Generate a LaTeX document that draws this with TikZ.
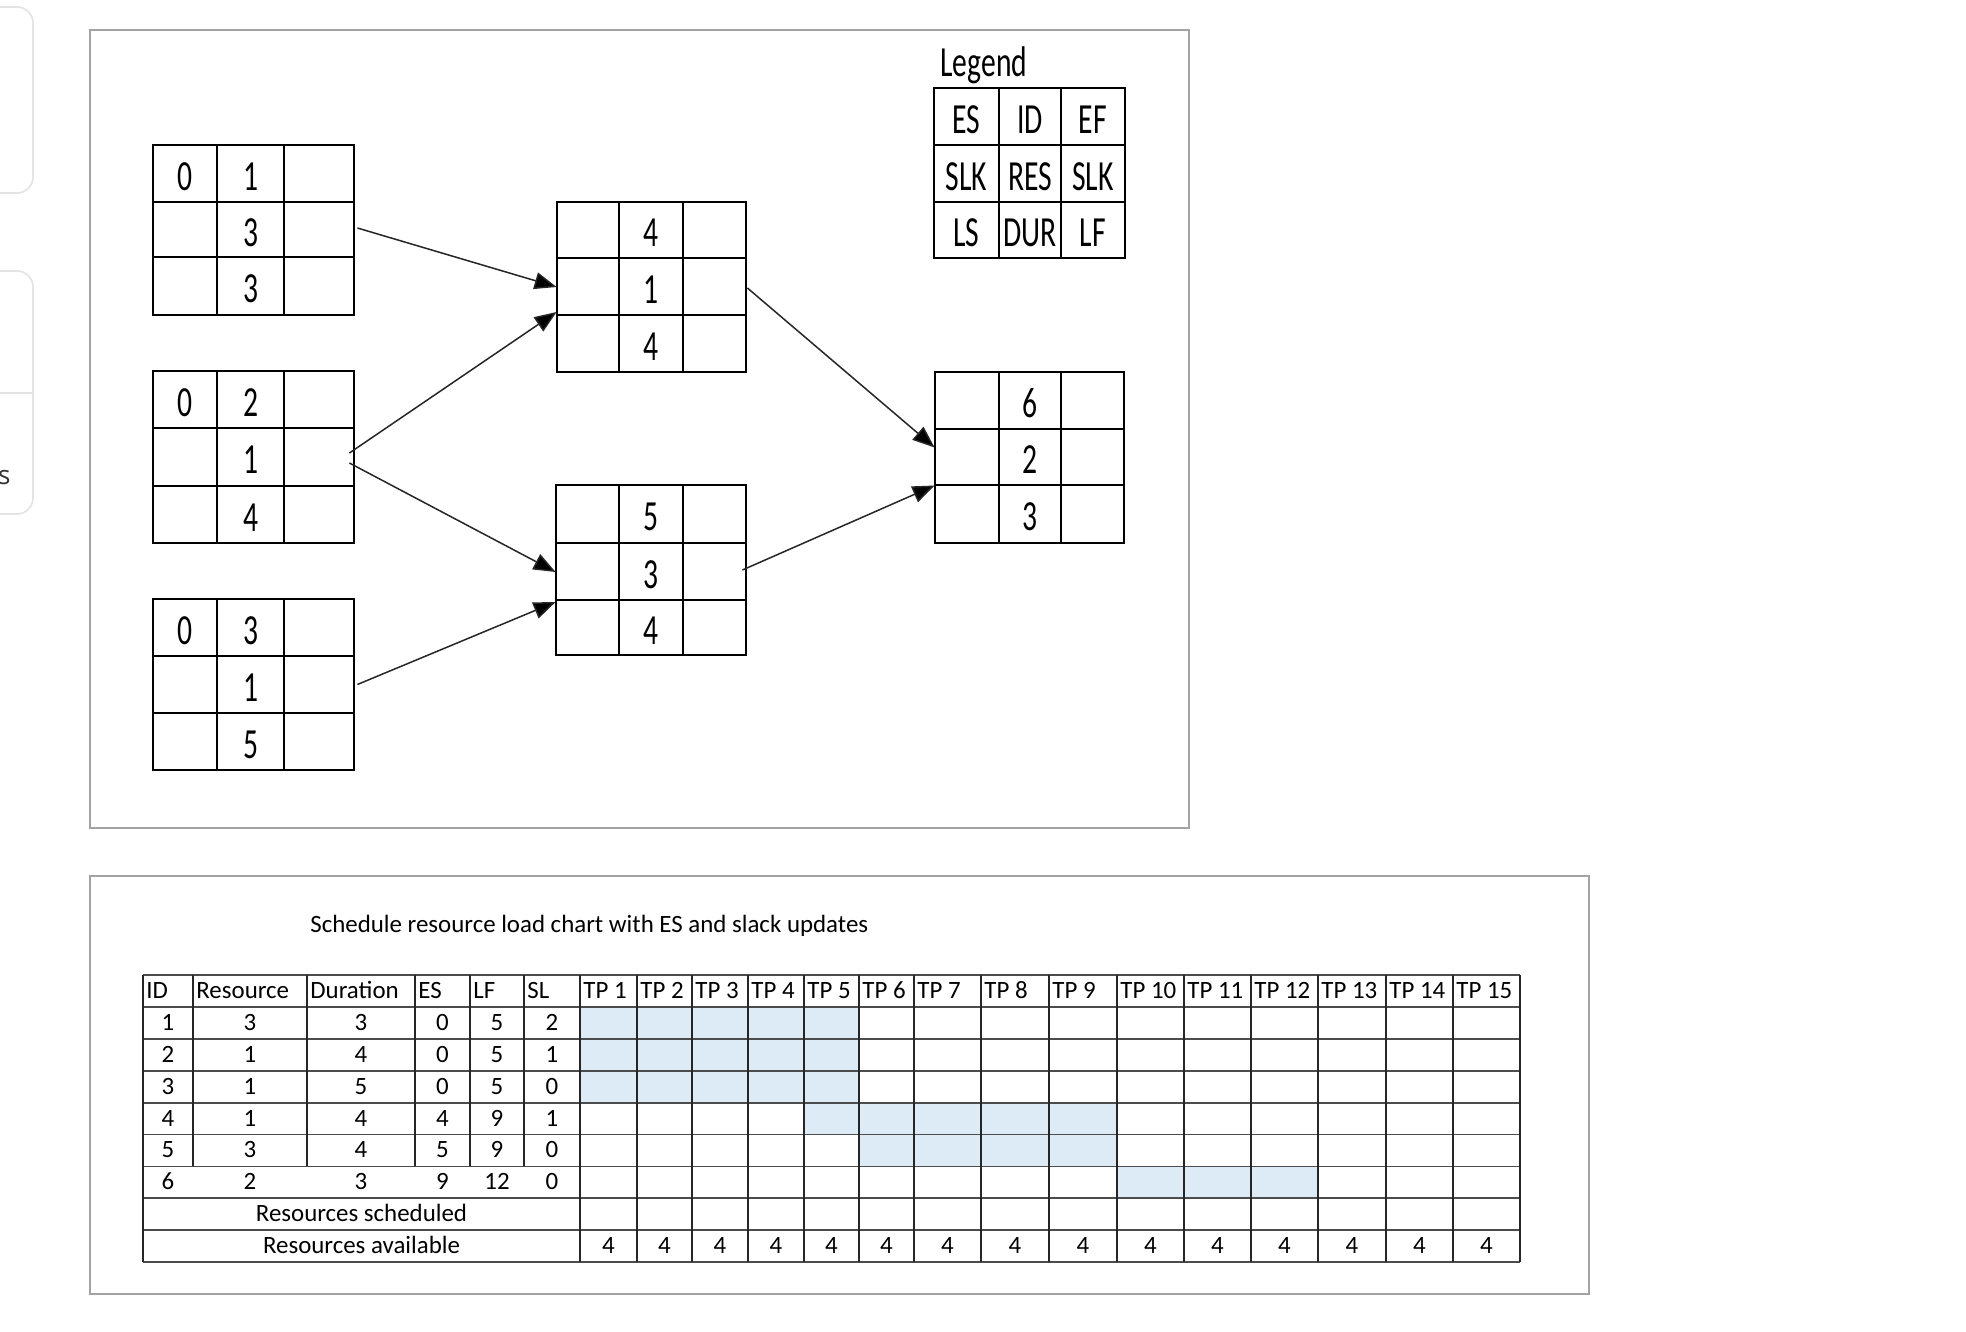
\documentclass[tikz,border=0pt]{standalone}
\usepackage{fontspec}
\usepackage{graphicx}
\setmainfont{Carlito}
\newfontfamily\uifont{Open Sans}
\usetikzlibrary{arrows.meta,calc,fit}
\definecolor{cellblue}{HTML}{DDEBF7}
\definecolor{framegray}{HTML}{A3A3A3}
\definecolor{uigray}{HTML}{E3E3E3}
\newcommand\tall[1]{\scalebox{1}[1.45]{#1}}
\newcommand\netbox[9]{%
  \draw[boxline] (#2,#6) rectangle (#5,#9);
  \draw[boxline] (#3,#6) -- (#3,#9) (#4,#6) -- (#4,#9) (#2,#7) -- (#5,#7) (#2,#8) -- (#5,#8);
  \node[fit={(#2,#6) (#5,#9)}, inner sep=0pt] (#1) {};
  \coordinate (#1-11) at ({(#2+#3)/2},{(#6+#7)/2+3});
  \coordinate (#1-12) at ({(#3+#4)/2},{(#6+#7)/2+3});
  \coordinate (#1-13) at ({(#4+#5)/2},{(#6+#7)/2+3});
  \coordinate (#1-21) at ({(#2+#3)/2},{(#7+#8)/2+3});
  \coordinate (#1-22) at ({(#3+#4)/2},{(#7+#8)/2+3});
  \coordinate (#1-23) at ({(#4+#5)/2},{(#7+#8)/2+3});
  \coordinate (#1-31) at ({(#2+#3)/2},{(#8+#9)/2+3});
  \coordinate (#1-32) at ({(#3+#4)/2},{(#8+#9)/2+3});
  \coordinate (#1-33) at ({(#4+#5)/2},{(#8+#9)/2+3});
}
\newcommand\dtext[2]{\node[dig] (#1-t) at (#1) {\tall{#2}};}
\tikzset{
  boxline/.style={line width=0.85pt, draw=black},
  dig/.style={font=\fontsize{14.8}{16}\selectfont, inner sep=0pt, anchor=center},
  conn/.style={draw=black!85, line width=0.75pt, -{Triangle[length=11pt,width=8.5pt,fill=black]}},
  framebox/.style={draw=framegray, line width=1pt},
  tcell/.style={font=\fontsize{12.45}{14}\selectfont, inner sep=0pt, anchor=base},
  thead/.style={tcell, anchor=base west},
  vline/.style={draw=black!85, line width=0.65pt},
  hline/.style={draw=black!70, line width=0.9pt},
  uibox/.style={draw=uigray, line width=0.8pt, rounded corners=8pt},
}
\begin{document}
\begin{tikzpicture}[x=0.5pt,y=-0.5pt]
\useasboundingbox (0,0) rectangle (1966,1332);
\fill[white] (0,0) rectangle (1966,1332);
% page fragments at left edge
\begin{scope}
\clip (0,0) rectangle (1966,1332);
\draw[uibox] (-30,7) rectangle (33,193);
\draw[uibox] (-30,271) rectangle (33,514);
\draw[draw=uigray, line width=0.8pt] (0,393) -- (32,393);
\end{scope}
\node[font=\uifont\fontsize{13}{15}\selectfont, text=black!80, inner sep=0pt, anchor=base east] (sfrag) at (11,484) {s};

% frames
\draw[framebox] (90,30) rectangle (1189,828);
\draw[framebox] (90,876) rectangle (1589,1294);

% network boxes
\netbox{b1}{153}{217}{284}{354}{145}{202}{257}{315}
\netbox{b2}{153}{217}{284}{354}{371}{428}{486}{543}
\netbox{b3}{153}{217}{284}{354}{599}{656}{713}{770}
\netbox{b4}{557}{619}{683}{746}{202}{258}{315}{372}
\netbox{b5}{556}{619}{683}{746}{485}{543}{600}{655}
\netbox{b6}{935}{999}{1061}{1124}{372}{429}{485}{543}
\netbox{lg}{934}{999}{1061}{1125}{88}{145}{202}{258}

\dtext{b1-11}{0}\dtext{b1-12}{1}\dtext{b1-22}{3}\dtext{b1-32}{3}
\dtext{b2-11}{0}\dtext{b2-12}{2}\dtext{b2-22}{1}\dtext{b2-32}{4}
\dtext{b3-11}{0}\dtext{b3-12}{3}\dtext{b3-22}{1}\dtext{b3-32}{5}
\dtext{b4-12}{4}\dtext{b4-22}{1}\dtext{b4-32}{4}
\dtext{b5-12}{5}\dtext{b5-22}{3}\dtext{b5-32}{4}
\dtext{b6-12}{6}\dtext{b6-22}{2}\dtext{b6-32}{3}
\dtext{lg-11}{ES}\dtext{lg-12}{ID}\dtext{lg-13}{EF}
\dtext{lg-21}{SLK}\dtext{lg-22}{RES}\dtext{lg-23}{SLK}
\dtext{lg-31}{LS}\dtext{lg-32}{DUR}\dtext{lg-33}{LF}
\node[dig, anchor=base west] (legendtitle) at (940,77) {\tall{Legend}};

% connectors
\draw[conn] ($(b1.east)+(3,-2)$) -- ($(b4.west)+(0,0)$);
\draw[conn] ($(b2.east)+(-5,-4)$) -- ($(b4.west)+(0,25)$);
\draw[conn] ($(b2.east)+(-5,6)$) -- ($(b5.west)+(0,2)$);
\draw[conn] ($(b3.east)+(3,0)$) -- ($(b5.west)+(0,32)$);
\draw[conn] ($(b4.east)+(1,1)$) -- ($(b6.west)+(0,-10)$);
\draw[conn] ($(b5.east)+(-4,0)$) -- ($(b6.west)+(0,28)$);

% resource load chart
\node[tcell, anchor=base west] (title) at (310,932) {Schedule resource load chart with ES and slack updates};

\fill[cellblue] (580,1006.9) rectangle (859,1102.6);
\fill[cellblue] (804,1102.6) rectangle (1117,1134.5);
\fill[cellblue] (859,1134.5) rectangle (1117,1166.4);
\fill[cellblue] (1117,1166.4) rectangle (1318,1198.3);

\foreach \yy in {975,1006.9,1038.8,1070.7,1102.6,1134.5,1166.4,1198.3,1230.2,1262.1}
  \draw[hline] (143,\yy) -- (1520,\yy);
\foreach \xx in {193,307,415,524}
  \draw[vline] (\xx,975) -- (\xx,1166.4);
\draw[vline, line width=1pt] (470,975) -- (470,1166.4);
\foreach \xx in {143,580,637,692,748,804,859,914,981,1049,1117,1184,1251,1318,1386,1453,1520}
  \draw[vline] (\xx,975) -- (\xx,1262.1);

\foreach \lab/\xx [count=\i] in {ID/143,Resource/193,Duration/307,ES/415,LF/470,SL/524}
  \node[thead] (h\i) at (\xx+3,998.4) {\lab};
\foreach \xx [count=\i] in {580,637,692,748,804,859,914,981,1049,1117,1184,1251,1318,1386,1453}
  \node[thead] (tp\i) at (\xx+3,998.4) {TP \i};

\foreach \a/\b/\c/\d/\e/\f [count=\i] in {1/3/3/0/5/2,2/1/4/0/5/1,3/1/5/0/5/0,4/1/4/4/9/1,5/3/4/5/9/0,6/2/3/9/12/0}{
  \pgfmathsetmacro\yb{975+31.9*(\i+1)-8.5}
  \node[tcell] (r\i a) at (168,\yb) {\a};
  \node[tcell] (r\i b) at (250,\yb) {\b};
  \node[tcell] (r\i c) at (361,\yb) {\c};
  \node[tcell] (r\i d) at (442.5,\yb) {\d};
  \node[tcell] (r\i e) at (497,\yb) {\e};
  \node[tcell] (r\i f) at (552,\yb) {\f};
}
\node[tcell] (rsched) at (361.5,1221.7) {Resources scheduled};
\node[tcell] (ravail) at (361.5,1253.6) {Resources available};
\foreach \xa/\xb [count=\i] in {580/637,637/692,692/748,748/804,804/859,859/914,914/981,981/1049,1049/1117,1117/1184,1184/1251,1251/1318,1318/1386,1386/1453,1453/1520}
  \node[tcell] (av\i) at ({(\xa+\xb)/2},1253.6) {4};
\end{tikzpicture}
\end{document}
